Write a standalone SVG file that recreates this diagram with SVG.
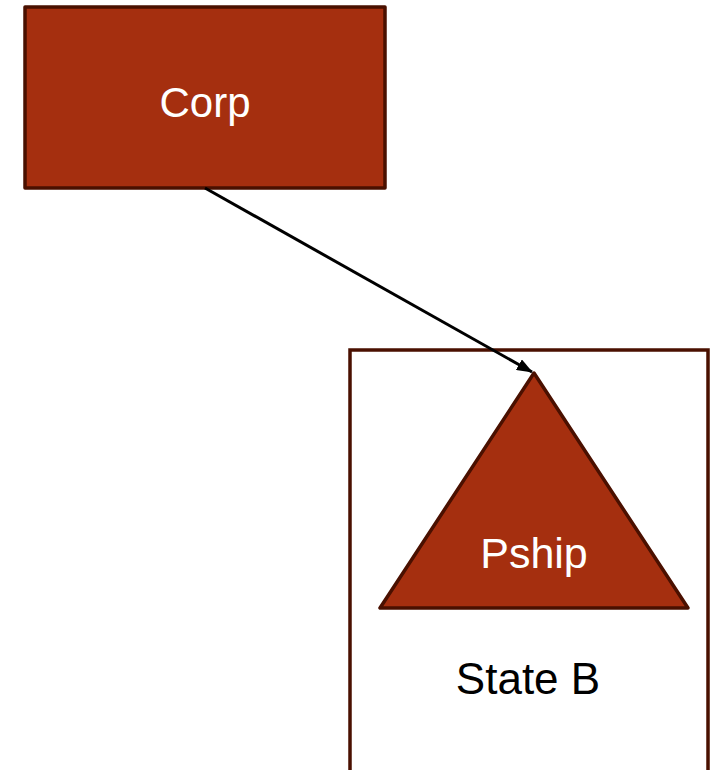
<svg xmlns="http://www.w3.org/2000/svg" width="716" height="770" viewBox="0 0 716 770">
<style>
.shape{fill:#A52F0F;stroke:#4A1000;stroke-width:3.5;stroke-linejoin:round}
.lbl{font-family:"Liberation Sans",Arial,sans-serif;text-anchor:middle}
</style>
<defs>
<marker id="ah" markerWidth="16" markerHeight="12" refX="15" refY="6" orient="auto" markerUnits="userSpaceOnUse">
<path d="M0,0 L16,6 L0,12 Z" fill="#000"/>
</marker>
</defs>
<rect width="716" height="770" fill="#fff"/>
<g id="stateB">
<rect x="350" y="350" width="358" height="440" fill="none" stroke="#4A1000" stroke-width="3.5"/>
<text class="lbl" x="528" y="694" font-size="44" fill="#000">State B</text>
</g>
<g id="corp">
<rect class="shape" x="25" y="7" width="360" height="181"/>
<text class="lbl" x="205" y="117" font-size="42" fill="#fff">Corp</text>
</g>
<g id="pship">
<polygon class="shape" points="534,373 380,608 688,608"/>
<text class="lbl" x="534" y="568" font-size="43" fill="#fff">Pship</text>
</g>
<g id="connectors">
<line x1="205" y1="188" x2="532" y2="372" stroke="#000" stroke-width="3" marker-end="url(#ah)"/>
</g>
</svg>
